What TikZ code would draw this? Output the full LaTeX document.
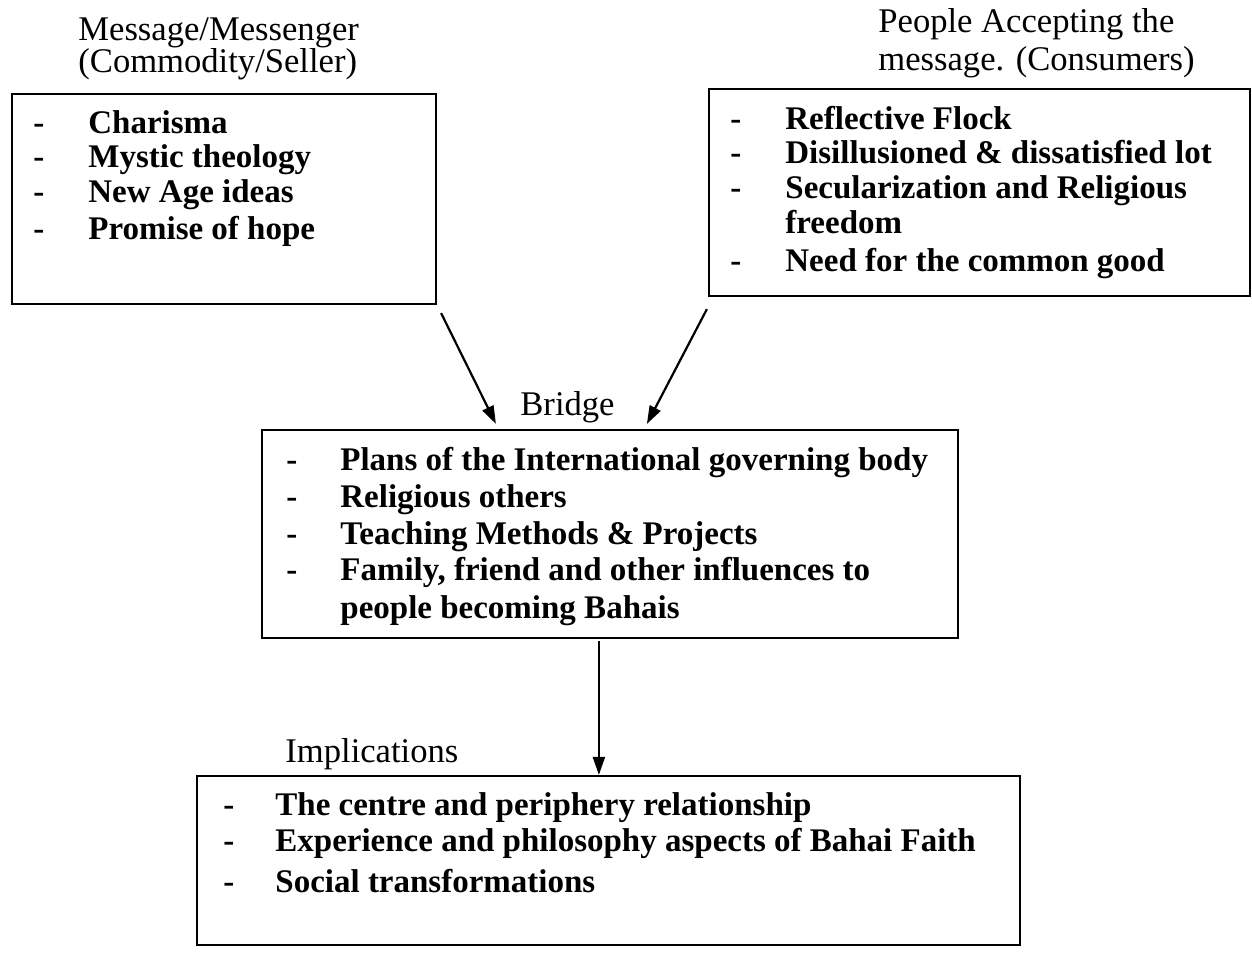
\documentclass[tikz,border=0pt]{standalone}
\usepackage{fontspec}
\setmainfont{Liberation Serif}
\usetikzlibrary{arrows.meta,calc}
\begin{document}
\begin{tikzpicture}[x=0.5pt,y=-0.5pt,
  box/.style={draw,line width=1.1pt,inner sep=0pt},
  item/.style={anchor=base west,inner sep=0pt,font=\fontsize{16.5}{18}\selectfont\bfseries},
  dashmark/.style={anchor=base west,inner sep=0pt,font=\fontsize{16.5}{18}\selectfont\bfseries},
  heading/.style={anchor=base west,inner sep=0pt,font=\fontsize{17.3}{19}\selectfont},
  link/.style={line width=1.1pt,-{Triangle[length=9pt,width=6pt]}}]
\useasboundingbox (0,0) rectangle (1252,954);
% boxes
\node[box,minimum width=212pt,minimum height=105pt] (b1) at (224,199) {};
\node[box,minimum width=270.5pt,minimum height=103.5pt] (b2) at (979.5,192.5) {};
\node[box,minimum width=348pt,minimum height=104pt] (b3) at (610,534) {};
\node[box,minimum width=411.5pt,minimum height=84.5pt] (b4) at (608.5,860.5) {};
% headings
\node[heading] (h1a) at (78,40) {Message/Messenger};
\node[heading] (h1b) at (78,72) {(Commodity/Seller)};
\node[heading] (h2a) at (878,32) {People Accepting the};
\node[heading] (h2b) at (878,70) {message. (Consumers)};
\node[heading] (h3) at (520,415) {Bridge};
\node[heading] (h4) at (285,762) {Implications};
% box 1
\foreach \y/\t [count=\i] in {133/Charisma,167/Mystic theology,202/New Age ideas,239/Promise of hope}{
  \node[dashmark] (d1\i) at (33,\y) {-};
  \node[item] (t1\i) at (88,\y) {\t};
}
% box 2
\foreach \y/\t [count=\i] in {129/Reflective Flock,163/Disillusioned \& dissatisfied lot,198/Secularization and Religious,271/Need for the common good}{
  \node[dashmark] (d2\i) at (730,\y) {-};
  \node[item] (t2\i) at (785,\y) {\t};
}
\node[item] (t2x) at (785,233) {freedom};
% box 3
\foreach \y/\t [count=\i] in {470/Plans of the International governing body,507/Religious others,544/Teaching Methods \& Projects,580/{Family, friend and other influences to}}{
  \node[dashmark] (d3\i) at (286,\y) {-};
  \node[item] (t3\i) at (340,\y) {\t};
}
\node[item] (t3x) at (340,618) {people becoming Bahais};
% box 4
\foreach \y/\t [count=\i] in {815/The centre and periphery relationship,851/Experience and philosophy aspects of Bahai Faith,892/Social transformations}{
  \node[dashmark] (d4\i) at (223,\y) {-};
  \node[item] (t4\i) at (275,\y) {\t};
}
% connectors
\draw[link] ($(b1.south east)+(4,8)$) -- ($(b3.north west)+(235,-5)$);
\draw[link] ($(b2.south west)+(-1,12)$) -- ($(b3.north west)+(386,-5)$);
\draw[link] ($(b3.south west)+(338,2)$) -- ($(b4.north west)+(403,0)$);
\end{tikzpicture}
\end{document}
